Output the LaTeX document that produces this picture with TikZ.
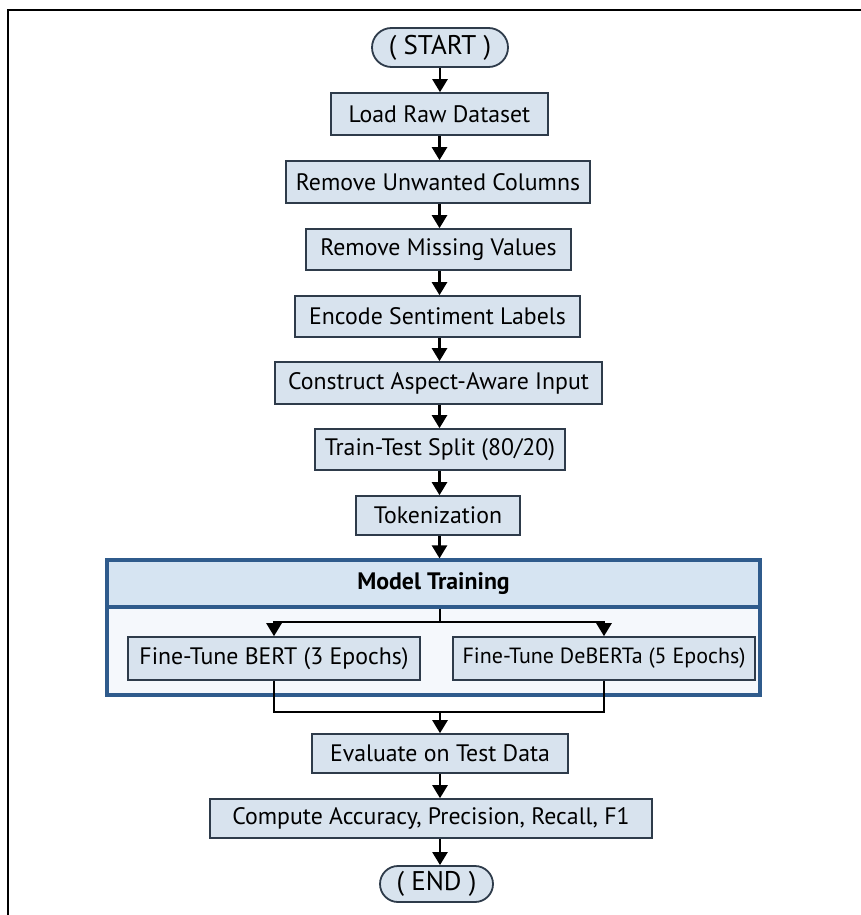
\documentclass[tikz,border=0pt]{standalone}
\usepackage{fontspec}
\setmainfont{PT Sans}
\usetikzlibrary{arrows.meta,shapes.misc}
\definecolor{boxfill}{HTML}{D8E3EE}
\definecolor{boxline}{HTML}{2E3B4A}
\definecolor{frameblue}{HTML}{2F5B8C}
\definecolor{headfill}{HTML}{D6E4F2}
\definecolor{bodyfill}{HTML}{F5F8FC}
\begin{document}
\begin{tikzpicture}[x=1pt,y=-1pt,
  stepbox/.style={draw=boxline,fill=boxfill,line width=1.6pt,inner sep=0pt,
    font=\fontsize{23.8}{26}\selectfont,text=black},
  termbox/.style={draw=boxline,fill=boxfill,line width=1.8pt,rounded rectangle,
    inner sep=0pt,font=\fontsize{27}{30}\selectfont,text=black},
  flow/.style={line width=2.4pt,-{Triangle[width=15pt,length=13pt]}},
  plain/.style={line width=2.4pt}]
\useasboundingbox (0,0) rectangle (861,915);
\fill[white] (0,0) rectangle (861,915);
% outer frame (left and top edges)
\draw[line width=2.8pt] (8,915) -- (8,10) -- (861,10);

% main chain
\node[termbox,minimum width=136pt,minimum height=39pt] (start) at (440,47.5) {( START )};
\node[stepbox,minimum width=217pt,minimum height=42pt] (load) at (439.5,114) {Load Raw Dataset};
\node[stepbox,minimum width=304pt,minimum height=42pt] (cols) at (438,182) {Remove Unwanted Columns};
\node[stepbox,minimum width=265pt,minimum height=41pt] (miss) at (438.5,249.5) {Remove Missing Values};
\node[stepbox,minimum width=285pt,minimum height=41pt] (enc) at (437.5,316.5) {Encode Sentiment Labels};
\node[stepbox,minimum width=327pt,minimum height=42pt] (asp) at (438.5,383) {Construct Aspect-Aware Input};
\node[stepbox,minimum width=250pt,minimum height=41pt] (split) at (440,449.5) {Train-Test Split (80/20)};
\node[stepbox,minimum width=164pt,minimum height=39pt] (tok) at (438,515.5) {Tokenization};

% model training container
\node[draw=frameblue,fill=bodyfill,line width=3.2pt,minimum width=653pt,minimum height=135pt,inner sep=0pt] (mt) at (433.5,627.5) {};
\node[draw=frameblue,fill=headfill,line width=3.2pt,minimum width=653pt,minimum height=47pt,inner sep=0pt,
  font=\fontsize{23.8}{26}\selectfont\bfseries] (mthead) at (433.5,583.5) {Model Training};
\node[stepbox,minimum width=292pt,minimum height=43pt] (bert) at (274,658.5) {Fine-Tune BERT (3 Epochs)};
\node[stepbox,minimum width=302pt,minimum height=43pt,font=\fontsize{22}{24}\selectfont] (deb) at (604,658.5) {Fine-Tune DeBERTa (5 Epochs)};

\node[stepbox,minimum width=256pt,minimum height=39pt] (eval) at (440,753.5) {Evaluate on Test Data};
\node[stepbox,minimum width=442pt,minimum height=39pt] (comp) at (431,818.5) {Compute Accuracy, Precision, Recall, F1};
\node[termbox,minimum width=113pt,minimum height=36pt] (end) at (436.5,884) {( END )};

% connectors
\draw[flow] (start.south) -- (load.north -| start.south);
\draw[flow] (load.south) -- (cols.north -| load.south);
\draw[flow] (cols.south -| load.south) -- (miss.north -| load.south);
\draw[flow] (miss.south -| load.south) -- (enc.north -| load.south);
\draw[flow] (enc.south -| load.south) -- (asp.north -| load.south);
\draw[flow] (asp.south -| load.south) -- (split.north -| load.south);
\draw[flow] (split.south -| load.south) -- (tok.north -| load.south);
\draw[flow] (tok.south -| load.south) -- (mthead.north -| load.south);

\coordinate (fork) at (440,622);
\coordinate (join) at (440,712);
\draw[plain] (mthead.south -| fork) -- (fork);
\draw[flow] (fork) -| (bert.north);
\draw[flow] (fork) -| (deb.north);
\draw[plain] (bert.south) |- (join);
\draw[plain] (deb.south) |- (join);
\draw[flow] (join) -- (eval.north -| join);
\draw[flow] (eval.south -| join) -- (comp.north -| join);
\draw[flow] (comp.south -| join) -- (end.north -| join);
\end{tikzpicture}
\end{document}
